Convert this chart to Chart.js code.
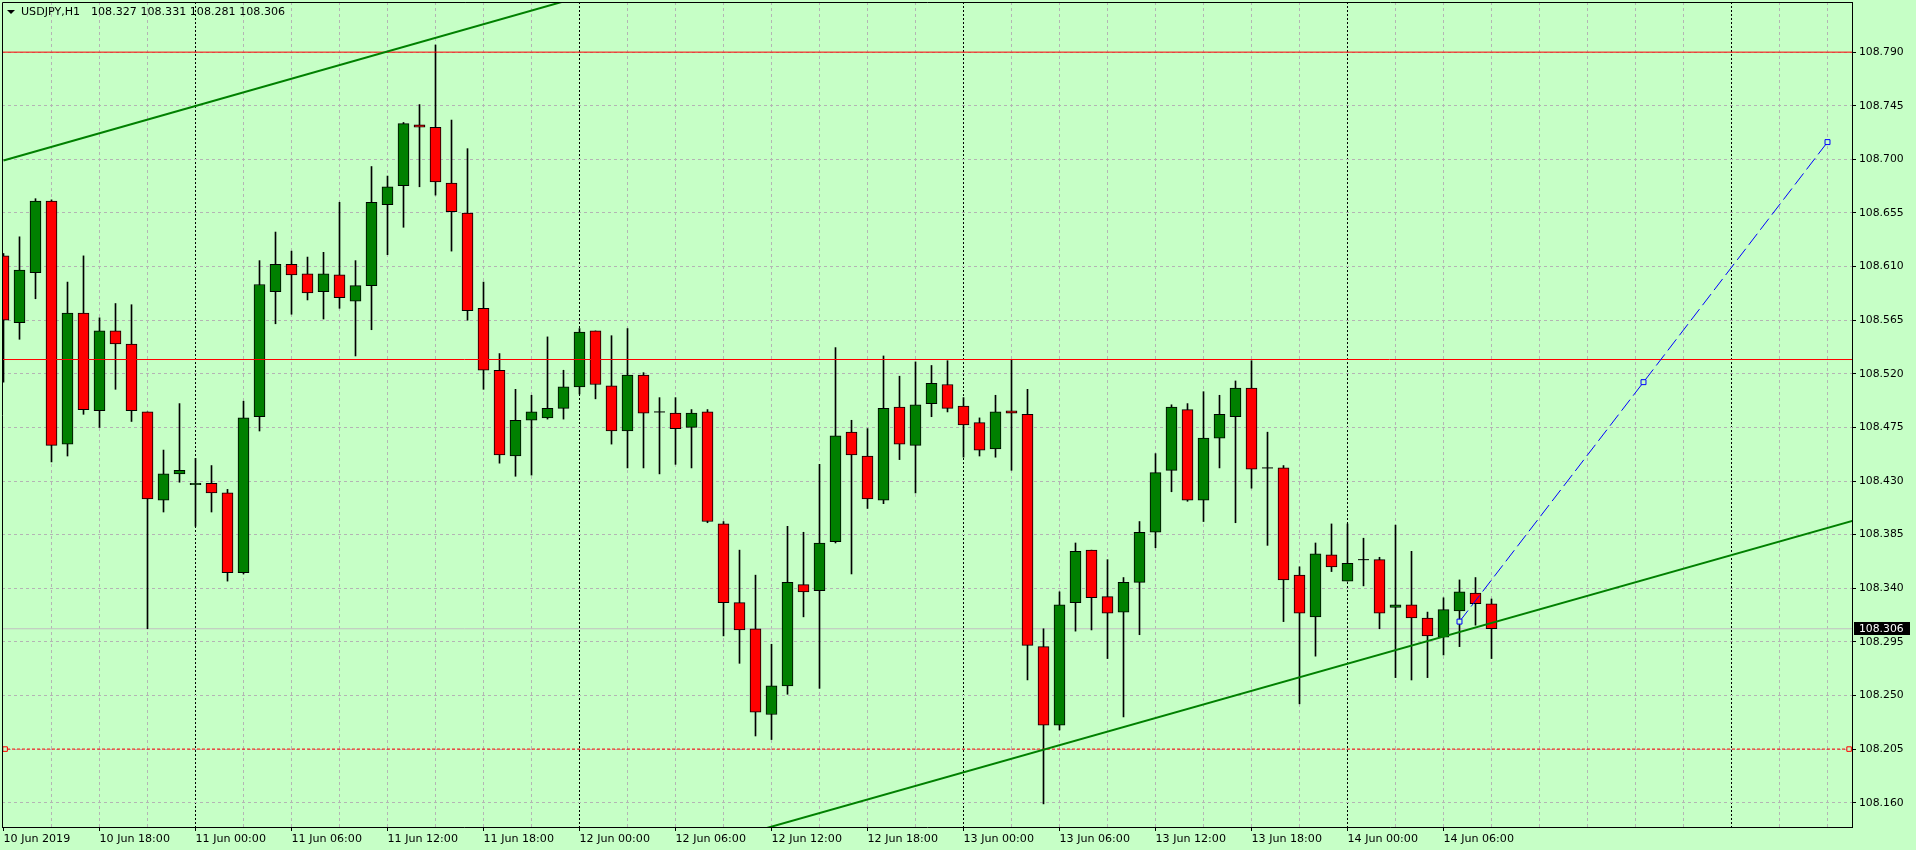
<!DOCTYPE html>
<html><head><meta charset="utf-8">
<script src="https://cdn.jsdelivr.net/npm/chart.js@4/dist/chart.umd.min.js"></script>
<style>html,body{margin:0;padding:0;background:#c6ffc6;overflow:hidden}canvas{display:block}</style>
</head><body>
<canvas id="c" width="1916" height="850"></canvas>
<script>
const symbolTitle = 'USDJPY,H1';

const categories = [
 '2019.06.10 12:00','2019.06.10 13:00','2019.06.10 14:00','2019.06.10 15:00','2019.06.10 16:00','2019.06.10 17:00',
 '2019.06.10 18:00','2019.06.10 19:00','2019.06.10 20:00','2019.06.10 21:00','2019.06.10 22:00','2019.06.10 23:00',
 '2019.06.11 00:00','2019.06.11 01:00','2019.06.11 02:00','2019.06.11 03:00','2019.06.11 04:00','2019.06.11 05:00',
 '2019.06.11 06:00','2019.06.11 07:00','2019.06.11 08:00','2019.06.11 09:00','2019.06.11 10:00','2019.06.11 11:00',
 '2019.06.11 12:00','2019.06.11 13:00','2019.06.11 14:00','2019.06.11 15:00','2019.06.11 16:00','2019.06.11 17:00',
 '2019.06.11 18:00','2019.06.11 19:00','2019.06.11 20:00','2019.06.11 21:00','2019.06.11 22:00','2019.06.11 23:00',
 '2019.06.12 00:00','2019.06.12 01:00','2019.06.12 02:00','2019.06.12 03:00','2019.06.12 04:00','2019.06.12 05:00',
 '2019.06.12 06:00','2019.06.12 07:00','2019.06.12 08:00','2019.06.12 09:00','2019.06.12 10:00','2019.06.12 11:00',
 '2019.06.12 12:00','2019.06.12 13:00','2019.06.12 14:00','2019.06.12 15:00','2019.06.12 16:00','2019.06.12 17:00',
 '2019.06.12 18:00','2019.06.12 19:00','2019.06.12 20:00','2019.06.12 21:00','2019.06.12 22:00','2019.06.12 23:00',
 '2019.06.13 00:00','2019.06.13 01:00','2019.06.13 02:00','2019.06.13 03:00','2019.06.13 04:00','2019.06.13 05:00',
 '2019.06.13 06:00','2019.06.13 07:00','2019.06.13 08:00','2019.06.13 09:00','2019.06.13 10:00','2019.06.13 11:00',
 '2019.06.13 12:00','2019.06.13 13:00','2019.06.13 14:00','2019.06.13 15:00','2019.06.13 16:00','2019.06.13 17:00',
 '2019.06.13 18:00','2019.06.13 19:00','2019.06.13 20:00','2019.06.13 21:00','2019.06.13 22:00','2019.06.13 23:00',
 '2019.06.14 00:00','2019.06.14 01:00','2019.06.14 02:00','2019.06.14 03:00','2019.06.14 04:00','2019.06.14 05:00',
 '2019.06.14 06:00','2019.06.14 07:00','2019.06.14 08:00','2019.06.14 09:00'
];

const opens = [
 108.619,108.563,108.605,108.665,108.461,108.571,108.489,108.556,108.545,108.488,
 108.414,108.436,108.427,108.428,108.420,108.353,108.484,108.589,108.612,108.604,
 108.589,108.603,108.581,108.594,108.662,108.678,108.729,108.727,108.680,108.655,
 108.575,108.523,108.451,108.481,108.483,108.491,108.509,108.556,108.510,108.472,
 108.519,108.488,108.487,108.475,108.488,108.394,108.328,108.306,108.234,108.258,
 108.343,108.338,108.379,108.471,108.451,108.414,108.492,108.460,108.495,108.511,
 108.493,108.479,108.457,108.489,108.486,108.291,108.225,108.328,108.372,108.333,
 108.320,108.345,108.387,108.439,108.490,108.414,108.466,108.484,108.508,108.441,
 108.441,108.351,108.316,108.368,108.346,108.364,108.364,108.324,108.326,108.315,
 108.299,108.321,108.336,108.327
];
const highs = [
 108.621,108.635,108.667,108.666,108.597,108.619,108.567,108.579,108.578,108.488,
 108.456,108.495,108.449,108.443,108.423,108.497,108.615,108.639,108.623,108.618,
 108.622,108.664,108.615,108.694,108.686,108.731,108.746,108.796,108.733,108.709,
 108.597,108.537,108.507,108.502,108.551,108.523,108.558,108.556,108.552,108.558,
 108.521,108.500,108.500,108.490,108.490,108.396,108.372,108.351,108.293,108.392,
 108.387,108.444,108.542,108.481,108.474,108.535,108.518,108.530,108.527,108.531,
 108.500,108.483,108.502,108.532,108.507,108.306,108.337,108.378,108.372,108.364,
 108.349,108.396,108.453,108.494,108.495,108.505,108.502,108.514,108.531,108.471,
 108.443,108.358,108.378,108.394,108.394,108.382,108.366,108.393,108.371,108.320,
 108.332,108.347,108.349,108.331
];
const lows = [
 108.513,108.549,108.583,108.446,108.451,108.486,108.475,108.507,108.480,108.306,
 108.404,108.429,108.392,108.404,108.346,108.352,108.472,108.562,108.570,108.582,
 108.566,108.575,108.535,108.557,108.620,108.643,108.677,108.670,108.623,108.565,
 108.507,108.445,108.434,108.435,108.482,108.482,108.503,108.499,108.461,108.441,
 108.441,108.436,108.444,108.441,108.395,108.300,108.277,108.216,108.213,108.251,
 108.316,108.256,108.378,108.352,108.407,108.411,108.448,108.420,108.484,108.488,
 108.450,108.451,108.450,108.439,108.263,108.159,108.221,108.304,108.305,108.281,
 108.232,108.301,108.374,108.421,108.413,108.396,108.441,108.395,108.424,108.376,
 108.312,108.243,108.283,108.354,108.346,108.342,108.306,108.265,108.263,108.265,
 108.284,108.291,108.309,108.281
];
const closes = [
 108.565,108.607,108.665,108.460,108.571,108.490,108.556,108.545,108.489,108.415,
 108.436,108.439,108.428,108.420,108.353,108.483,108.595,108.612,108.603,108.588,
 108.604,108.584,108.594,108.664,108.677,108.730,108.727,108.681,108.656,108.573,
 108.523,108.452,108.481,108.488,108.491,108.509,108.555,108.511,108.472,108.519,
 108.487,108.488,108.474,108.487,108.396,108.328,108.305,108.236,108.258,108.345,
 108.337,108.378,108.468,108.452,108.415,108.491,108.461,108.494,108.512,108.491,
 108.477,108.456,108.488,108.487,108.292,108.225,108.326,108.371,108.332,108.319,
 108.345,108.387,108.437,108.492,108.414,108.466,108.486,108.508,108.440,108.441,
 108.347,108.319,108.369,108.358,108.361,108.364,108.319,108.326,108.315,108.300,
 108.322,108.337,108.327,108.306
];

const tickTimes = ['2019.06.10 12:00','2019.06.10 18:00','2019.06.11 00:00','2019.06.11 06:00','2019.06.11 12:00','2019.06.11 18:00',
 '2019.06.12 00:00','2019.06.12 06:00','2019.06.12 12:00','2019.06.12 18:00','2019.06.13 00:00','2019.06.13 06:00',
 '2019.06.13 12:00','2019.06.13 18:00','2019.06.14 00:00','2019.06.14 06:00'];
const tickLabels = ['10 Jun 2019','10 Jun 18:00','11 Jun 00:00','11 Jun 06:00','11 Jun 12:00','11 Jun 18:00',
 '12 Jun 00:00','12 Jun 06:00','12 Jun 12:00','12 Jun 18:00','13 Jun 00:00','13 Jun 06:00',
 '13 Jun 12:00','13 Jun 18:00','14 Jun 00:00','14 Jun 06:00'];
const priceTicks = [108.160,108.205,108.250,108.295,108.340,108.385,108.430,108.475,108.520,108.565,108.610,108.655,108.700,108.745,108.790];

// chart objects (anchor values: [bar index, price])
const redLevels = [108.790, 108.532];
const dashedLevel = 108.205;
const dashedLevelAnchors = [0.1, 115.35];
const upperChannel = [[0, 108.699], [40, 108.8516]];
const lowerChannel = [[44, 108.1247], [116, 108.3983]];
const blueTrend = [[91, 108.312], [102.5, 108.513], [114, 108.7145]];

const BG = '#c6ffc6';
const X_MIN = -0.09375, X_MAX = 115.53125;
const Y_MIN = 108.1396, Y_MAX = 108.8321;
const lastIdx = closes.length - 1;
const bid = closes[lastIdx];
const FONT = 'DejaVu Sans';

const tickIdx = tickTimes.map(t => categories.indexOf(t));
const isDay = v => v % 24 === 12;

const bodies = [], wicks = [], dojis = [], bodyColors = [];
categories.forEach((t, i) => {
  const o = opens[i], c = closes[i];
  wicks.push({x: i, y: [lows[i], highs[i]]});
  if (o === c) { dojis.push({x: i, y: o}); }
  else { bodies.push({x: i, y: [Math.min(o, c), Math.max(o, c)]}); bodyColors.push(c > o ? '#008000' : '#ff0000'); }
});
const hLine = v => [{x: X_MIN, y: v}, {x: X_MAX, y: v}];
const pts = arr => arr.map(p => ({x: p[0], y: p[1]}));

const datasets = [
  {type:'line', data: pts(blueTrend), borderColor:'#0000ff', borderWidth:1, borderDash:[14,5],
   pointStyle:'rect', pointRadius:3.5, pointBackgroundColor:BG, pointBorderColor:'#0000ff', pointBorderWidth:1, clip:0},
  {type:'line', data: pts(upperChannel), borderColor:'#008000', borderWidth:2, pointRadius:0, clip:0},
  {type:'line', data: pts(lowerChannel), borderColor:'#008000', borderWidth:2, pointRadius:0, clip:0},
  ...redLevels.map(v => ({type:'line', data: hLine(v), borderColor:'#ff0000', borderWidth:1, pointRadius:0, clip:0})),
  {type:'line', data: dashedLevelAnchors.map(x => ({x, y: dashedLevel})), showLine:false, pointStyle:'rect', pointRadius:3.2,
   pointBackgroundColor:BG, pointBorderColor:'#ff0000', pointBorderWidth:1},
  {type:'line', data: hLine(dashedLevel), borderColor:'#ff0000', borderWidth:1, borderDash:[3,2], pointRadius:0, clip:0},
  {type:'bar', data: bodies, backgroundColor: bodyColors, borderColor:'#000', borderWidth:1, borderSkipped:false,
   barThickness:11, grouped:false},
  {type:'line', data: dojis, showLine:false, pointStyle:'line', pointRadius:5.5, pointBorderColor:'#000', pointBorderWidth:1},
  {type:'bar', data: wicks, backgroundColor:'#000', borderWidth:0, barThickness:1, grouped:false},
  {type:'line', data: hLine(bid), borderColor:'#c0c0c0', borderWidth:1, pointRadius:0, clip:0}
];

const decor = {
  id: 'decor',
  beforeDraw(chart) {
    const {ctx, width, height} = chart;
    ctx.save(); ctx.fillStyle = BG; ctx.fillRect(0, 0, width, height); ctx.restore();
  },
  afterDraw(chart) {
    const {ctx, chartArea: a, scales: {y}} = chart;
    ctx.save();
    ctx.strokeStyle = '#000'; ctx.lineWidth = 1;
    ctx.beginPath();
    ctx.moveTo(a.left + 0.5, a.bottom + 1); ctx.lineTo(a.left + 0.5, a.top + 0.5); ctx.lineTo(a.right + 1, a.top + 0.5);
    ctx.stroke();
    // title
    ctx.fillStyle = '#000';
    ctx.beginPath(); ctx.moveTo(7, 10); ctx.lineTo(15, 10); ctx.lineTo(11, 14); ctx.closePath(); ctx.fill();
    ctx.font = '11.1px "' + FONT + '"'; ctx.textBaseline = 'middle'; ctx.textAlign = 'left';
    const f = v => v.toFixed(3);
    ctx.fillText(symbolTitle, 21, 12.5);
    ctx.fillText([opens[lastIdx], highs[lastIdx], lows[lastIdx], closes[lastIdx]].map(f).join(' '), 91, 12.5);
    // bid label
    const py = y.getPixelForValue(bid);
    ctx.fillStyle = '#000';
    ctx.fillRect(a.right + 2, Math.round(py) - 7, 56, 13);
    ctx.fillStyle = '#fff';
    ctx.font = '10.8px "' + FONT + '"';
    ctx.fillText(f(bid), a.right + 7, py);
    ctx.restore();
  }
};

const noPad = s => { s.paddingLeft = 0; s.paddingRight = 0; s.paddingTop = 0; s.paddingBottom = 0; };

new Chart(document.getElementById('c'), {
  type: 'line',
  data: { datasets },
  plugins: [decor],
  options: {
    responsive: false, animation: false, devicePixelRatio: 1, events: [],
    layout: { autoPadding: false, padding: { top: 2, left: 2, right: 0, bottom: 0 } },
    plugins: { legend: { display: false }, tooltip: { enabled: false } },
    scales: {
      x: {
        type: 'linear', min: X_MIN, max: X_MAX, offset: false,
        afterBuildTicks: s => { const t = []; for (let v = 0; v <= 114; v += 3) t.push({value: v}); s.ticks = t; },
        afterFit: s => { s.height = 23; noPad(s); },
        ticks: {
          autoSkip: false, maxRotation: 0, minRotation: 0, align: 'start', padding: 1, color: '#000',
          font: { family: FONT, size: 11.1 },
          callback: v => { const k = tickIdx.indexOf(v); return k >= 0 ? tickLabels[k] : ''; }
        },
        grid: {
          offset: false, lineWidth: 1, tickLength: 4, tickWidth: 1,
          color: c => !c.tick ? '#b4b4b4' : (c.tick.value === 0 ? 'rgba(0,0,0,0)' : (isDay(c.tick.value) ? '#000' : '#b4b4b4')),
          tickColor: c => (c.tick && tickIdx.includes(c.tick.value)) ? '#000' : 'rgba(0,0,0,0)'
        },
        border: { display: true, color: '#000', width: 1,
          dash: c => (c.tick && isDay(c.tick.value)) ? [2, 2] : [3, 3] }
      },
      y: {
        type: 'linear', position: 'right', min: Y_MIN, max: Y_MAX, beginAtZero: false,
        afterBuildTicks: s => { s.ticks = priceTicks.map(v => ({value: v})); },
        afterFit: s => { s.width = 64; noPad(s); },
        ticks: { padding: 3, color: '#000', font: { family: FONT, size: 10.8 }, callback: v => v.toFixed(3) },
        grid: { color: '#b4b4b4', lineWidth: 1, tickLength: 4, tickColor: '#000' },
        border: { display: true, color: '#000', width: 1, dash: [3, 3] }
      }
    }
  }
});
</script>
</body></html>
